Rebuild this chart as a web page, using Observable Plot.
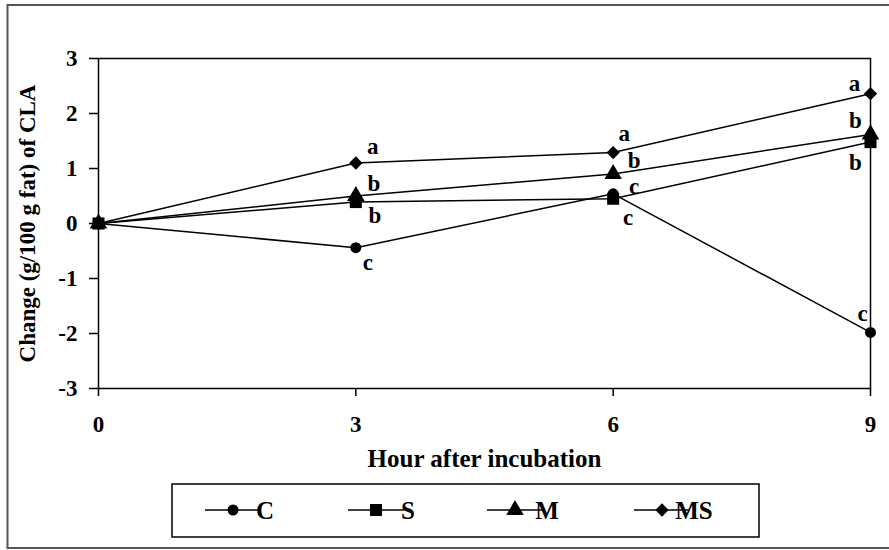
<!DOCTYPE html>
<html><head><meta charset="utf-8">
<script src="https://cdn.jsdelivr.net/npm/d3@7"></script>
<script src="https://cdn.jsdelivr.net/npm/@observablehq/plot@0.6"></script>
<style>body{margin:0;background:#fff;} svg{display:block}</style>
</head><body><div id="chart"></div>
<script>
// ---- data ----
const hours = [0, 3, 6, 9];
const seriesNames = ["C", "S", "M", "MS"];
const valuesC  = [0, -0.44, 0.54, -1.98];
const valuesS  = [0, 0.39, 0.45, 1.48];
const valuesM  = [0, 0.50, 0.90, 1.62];
const valuesMS = [0, 1.10, 1.29, 2.36];
const lettersC  = ["", "c", "c", "c"];
const lettersS  = ["", "b", "c", "b"];
const lettersM  = ["", "b", "b", "b"];
const lettersMS = ["", "a", "a", "a"];
const xTicks = [0, 3, 6, 9];
const yTicks = [-3, -2, -1, 0, 1, 2, 3];
const xTitle = "Hour after incubation";
const yTitle = "Change (g/100 g fat) of CLA";

// ---- styling ----
const font = "'Liberation Serif', 'Times New Roman', serif";
const values = {C: valuesC, S: valuesS, M: valuesM, MS: valuesMS};
const letters = {C: lettersC, S: lettersS, M: lettersM, MS: lettersMS};
const symbols = {C: "circle", S: "square", M: "triangle", MS: "diamond2"};
const radius = {C: 5.5, S: 6.8, M: 6.5, MS: 6};
const labelOffsets = {
  C:  [null, [12, 14.5], [21, -7], [-8, -19]],
  S:  [null, [19, 13.5], [15, 19], [-15, 21]],
  M:  [null, [18, -12.5], [21, -13], [-15, -14]],
  MS: [null, [17, -16], [11, -19], [-16, -10]]
};
const dotOrder = ["C", "M", "S", "MS"];

const rows = [];
seriesNames.forEach(s => hours.forEach((h, j) =>
  rows.push({series: s, hour: h, value: values[s][j], letter: letters[s][j], idx: j})));
const bySeries = s => rows.filter(r => r.series === s);

const labelMarks = [];
rows.forEach(r => {
  const off = labelOffsets[r.series][r.idx];
  if (r.letter && off) {
    labelMarks.push(Plot.text([r], {x: "hour", y: "value", text: "letter",
      dx: off[0], dy: off[1], fontSize: 23, fontWeight: "bold", fill: "black"}));
  }
});

const chart = Plot.plot({
  width: 889, height: 550,
  marginLeft: 98, marginRight: 19, marginTop: 58, marginBottom: 162,
  style: {fontFamily: font, background: "white", color: "black"},
  x: {domain: [0, 9]},
  y: {domain: [-3, 3]},
  marks: [
    Plot.frame({stroke: "black", strokeWidth: 1.5}),
    Plot.axisY({ticks: yTicks, tickSize: 9, tickPadding: 12, tickFormat: d => String(d),
      fontSize: 23, fontWeight: "bold", label: null, strokeWidth: 1.5}),
    Plot.axisX({ticks: xTicks, tickSize: 8, tickPadding: 19, tickFormat: d => String(d),
      fontSize: 23, fontWeight: "bold", label: null, strokeWidth: 1.5}),
    Plot.text([yTitle], {frameAnchor: "left", dx: -71, rotate: -90, textAnchor: "middle",
      fontSize: 23, fontWeight: "bold"}),
    Plot.text([xTitle], {frameAnchor: "bottom", dy: 78, textAnchor: "middle", fontSize: 25, fontWeight: "bold"}),
    ...seriesNames.map(s => Plot.line(bySeries(s), {x: "hour", y: "value", stroke: "black", strokeWidth: 1.5})),
    ...dotOrder.map(s => Plot.dot(bySeries(s), {x: "hour", y: "value", symbol: symbols[s], r: radius[s], fill: "black", stroke: "none"})),
    ...labelMarks
  ]
});
document.getElementById("chart").append(chart);

// ---- legend & outer frame ----
const svg = d3.select(chart);
svg.append("rect").attr("x", 7.5).attr("y", 5).attr("width", 900).attr("height", 543)
  .attr("fill", "none").attr("stroke", "#555").attr("stroke-width", 2);
const lg = svg.append("g");
lg.append("rect").attr("x", 172).attr("y", 484).attr("width", 587).attr("height", 53)
  .attr("fill", "none").attr("stroke", "black").attr("stroke-width", 1.5);
const legendStart = [205, 348, 487, 634];
const symType = {circle: d3.symbolCircle, square: d3.symbolSquare, triangle: d3.symbolTriangle, diamond2: d3.symbolDiamond2};
seriesNames.forEach((s, i) => {
  const x0 = legendStart[i], y0 = 510, len = 56;
  const g = lg.append("g");
  g.append("line").attr("x1", x0).attr("x2", x0 + len).attr("y1", y0).attr("y2", y0)
    .attr("stroke", "black").attr("stroke-width", 1.5);
  g.append("path").attr("transform", `translate(${x0 + len / 2},${y0})`)
    .attr("d", d3.symbol(symType[symbols[s]], Math.PI * radius[s] * radius[s])())
    .attr("fill", "black");
  g.append("text").attr("x", x0 + len + 4).attr("y", y0).attr("dy", "0.35em")
    .attr("font-size", 25).attr("font-weight", "bold").attr("font-family", font)
    .attr("fill", "black").text(s);
});
</script>
</body></html>
